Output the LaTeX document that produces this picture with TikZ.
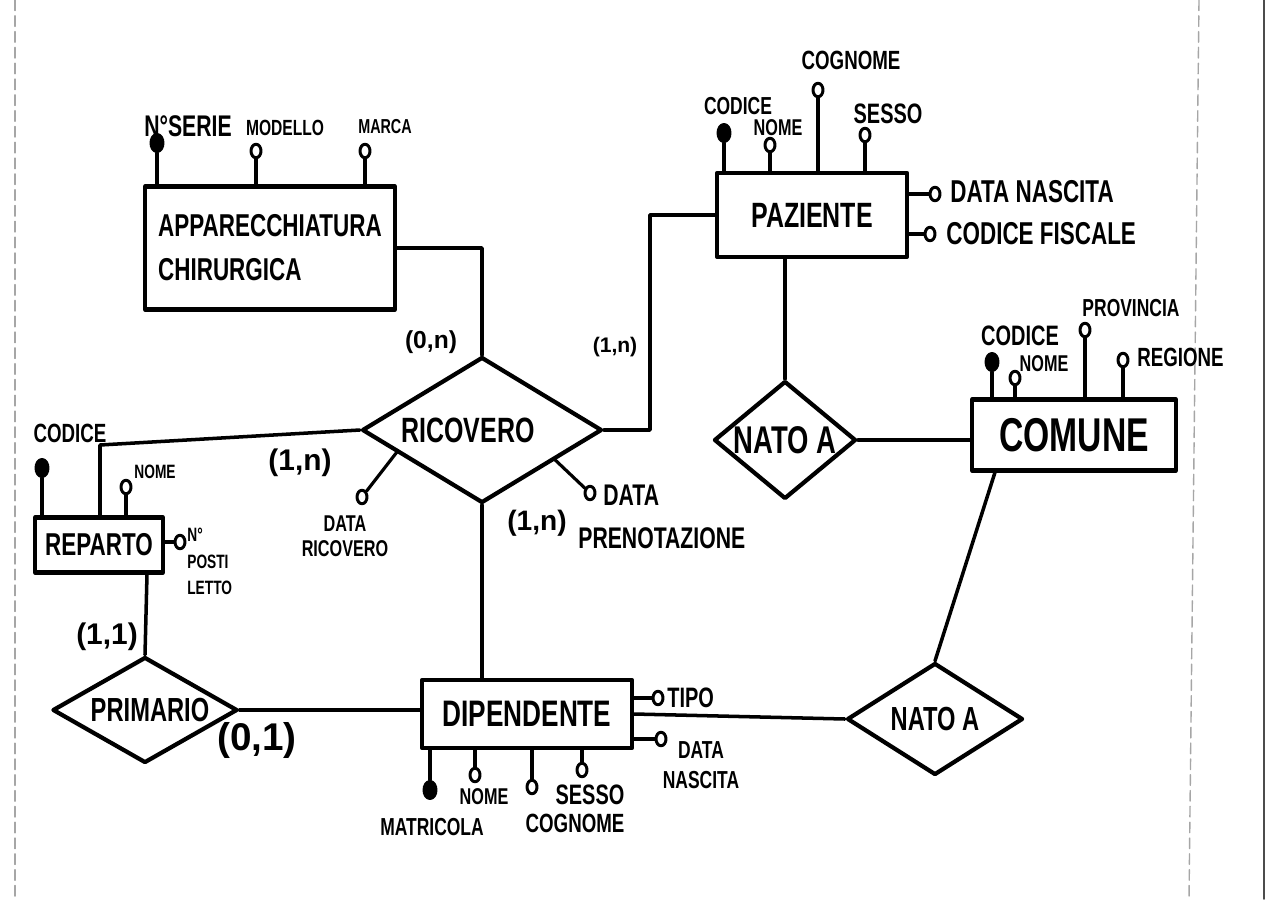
\documentclass[tikz,border=0pt]{standalone}
\usepackage{fontspec}
\setmainfont{Liberation Sans}[FakeStretch=0.71, UprightFont=* Bold]
\newfontfamily\cardfont{Liberation Sans Bold}
\usetikzlibrary{shapes.geometric,calc}
\newcommand\fsz[1]{\fontsize{#1}{#1}\selectfont}

\begin{document}
\begin{tikzpicture}[x=0.02cm,y=-0.02cm, line cap=round, line join=round,
 entity/.style={draw, line width=2.4pt, rectangle, inner sep=0pt},
 rel/.style={draw, line width=2.4pt, diamond, inner sep=0pt},
 conn/.style={line width=2pt},
 stem/.style={line width=1.8pt},
 attr/.style={draw, ellipse, line width=1.7pt, fill=white, minimum width=0.2cm, minimum height=0.27cm, inner sep=0pt},
 keyattr/.style={attr, fill=black, minimum width=0.24cm, minimum height=0.34cm},
 lbl/.style={inner sep=0pt},
 card/.style={inner sep=0pt},
 page/.style={black!35, line width=0.8pt, dash pattern=on 6pt off 3pt}
]
\useasboundingbox (0,0) rectangle (1267,899);
\fill[white] (0,0) rectangle (1267,899);

% page edges
\draw[page] (15,0) -- (15,899);
\draw[page] (1199,0) -- (1189,899);
\draw[black!70, line width=1pt] (1264,0) -- (1264,899);

% entities
\node[entity, minimum width=5cm, minimum height=2.46cm, align=left, font=\fsz{18}] (app) at (270,248) {APPARECCHIATURA\\[7pt]CHIRURGICA};
\node[entity, minimum width=3.8cm, minimum height=1.68cm, font=\fsz{20}] (paz) at (812,215) {PAZIENTE};
\node[entity, minimum width=4.08cm, minimum height=1.42cm, font=\fsz{27}] (com) at (1074,435) {COMUNE};
\node[entity, minimum width=4.2cm, minimum height=1.36cm, font=\fsz{21}] (dip) at (527,714) {DIPENDENTE};
\node[entity, minimum width=2.56cm, minimum height=1.1cm, font=\fsz{18}] (rep) at (99,545) {REPARTO};

% relationships
\node[rel, minimum width=4.8cm, minimum height=2.92cm, label={[font=\fsz{20},xshift=-0.28cm]center:RICOVERO}] (ric) at (482,430) {};
\node[rel, minimum width=2.84cm, minimum height=2.36cm, label={[font=\fsz{22}]center:NATO A}] (nat1) at (785,440) {};
\node[rel, minimum width=3.52cm, minimum height=2.24cm, label={[font=\fsz{19}]center:NATO A}] (nat2) at (935,719) {};
\node[rel, minimum width=3.7cm, minimum height=2.12cm, label={[font=\fsz{19},xshift=0.1cm]center:PRIMARIO}] (pri) at (145,710) {};

% connectors
\coordinate (pk) at (650,430);
\coordinate (rk) at (100,445);
\draw[conn] (app.east) -| (ric.north);
\draw[conn] (paz.west) -| (pk) -- (ric.east);
\draw[conn] (paz.south -| nat1.north) -- (nat1.north);
\draw[conn] (nat1.east) -- (nat1.east -| com.west);
\draw[conn] ([xshift=0.5cm]com.south west) -- (nat2.north);
\draw[conn] (nat2.west) -- (dip.east);
\draw[conn] (ric.south) -- (ric.south |- dip.north);
\draw[conn] (ric.west) -- (rk) -- (rk |- rep.north);
\draw[conn] ([xshift=0.96cm]rep.south) -- (pri.north);
\draw[conn] (pri.east) -- (pri.east -| dip.west);

% cardinalities
\node[card, font=\cardfont\fsz{14}] (k1) at (431,342) {(0,n)};
\node[card, font=\cardfont\fsz{12}] (k2) at (615,347) {(1,n)};
\node[card, font=\cardfont\fsz{17}] (k3) at (300,463) {(1,n)};
\node[card, font=\cardfont\fsz{16}] (k4) at (537,523) {(1,n)};
\node[card, font=\cardfont\fsz{17}] (k5) at (107,637) {(1,1)};
\node[card, font=\cardfont\fsz{22}] (k6) at (257,740) {(0,1)};

% APPARECCHIATURA attributes
\node[keyattr] (a1) at (157,143) {};
\node[attr] (a2) at (256,151) {};
\node[attr] (a3) at (365,151) {};
\foreach \n in {a1,a2,a3} \draw[stem] (\n) -- (\n |- app.north);
\node[lbl, font=\fsz{17}] (a1l) at (188,126) {N°SERIE};
\node[lbl, font=\fsz{12.5}] (a2l) at (285,128) {MODELLO};
\node[lbl, font=\fsz{11.5}] (a3l) at (385,127) {MARCA};

% PAZIENTE attributes
\node[keyattr] (p1) at (724,133) {};
\node[attr] (p2) at (770,145) {};
\node[attr] (p3) at (818,90) {};
\node[attr] (p4) at (865,135) {};
\foreach \n in {p1,p2,p3,p4} \draw[stem] (\n) -- (\n |- paz.north);
\node[lbl, font=\fsz{14}] (p1l) at (738,106) {CODICE};
\node[lbl, font=\fsz{13}] (p2l) at (778,128) {NOME};
\node[lbl, font=\fsz{15}] (p3l) at (851,60) {COGNOME};
\node[lbl, font=\fsz{16}] (p4l) at (888,114) {SESSO};
\node[attr] (p5) at (935,194) {};
\node[attr] (p6) at (930,234) {};
\foreach \n in {p5,p6} \draw[stem] (\n) -- (\n -| paz.east);
\node[lbl, font=\fsz{18}, anchor=west] (p5l) at (950,192) {DATA NASCITA};
\node[lbl, font=\fsz{18}, anchor=west] (p6l) at (946,234) {CODICE FISCALE};

% COMUNE attributes
\node[keyattr] (c1) at (992,362) {};
\node[attr] (c2) at (1015,378) {};
\node[attr] (c3) at (1085,330) {};
\node[attr] (c4) at (1123,360) {};
\foreach \n in {c1,c2,c3,c4} \draw[stem] (\n) -- (\n |- com.north);
\node[lbl, font=\fsz{16}] (c1l) at (1020,336) {CODICE};
\node[lbl, font=\fsz{13}] (c2l) at (1044,364) {NOME};
\node[lbl, font=\fsz{14}] (c3l) at (1131,308) {PROVINCIA};
\node[lbl, font=\fsz{15}, anchor=west] (c4l) at (1137,357) {REGIONE};

% RICOVERO attributes
\node[attr] (r1) at (362,497) {};
\node[attr] (r2) at (590,493) {};
\draw[stem] ($(ric.west)!0.3!(ric.south)$) -- (r1);
\draw[stem] ($(ric.east)!0.4!(ric.south)$) -- (r2);
\node[lbl, font=\fsz{13}, align=center] (r1l) at (345,536) {DATA\\[1pt]RICOVERO};
\node[lbl, font=\fsz{17}, align=left, anchor=north west] (r2l) at (578,485) {\hspace*{0.5cm}DATA\\[7pt]PRENOTAZIONE};

% REPARTO attributes
\node[keyattr] (e1) at (42,468) {};
\node[attr] (e2) at (126,487) {};
\foreach \n in {e1,e2} \draw[stem] (\n) -- (\n |- rep.north);
\node[lbl, font=\fsz{15}] (e1l) at (70,433) {CODICE};
\node[lbl, font=\fsz{11}] (e2l) at (155,472) {NOME};
\node[attr] (e3) at (180,542) {};
\draw[stem] (e3) -- (e3 -| rep.east);
\node[lbl, font=\fsz{11}, align=left, anchor=north west] (e3l) at (187,528) {N°\\[4pt]POSTI\\[4pt]LETTO};

% DIPENDENTE attributes
\node[keyattr] (d1) at (430,790) {};
\node[attr] (d2) at (475,775) {};
\node[attr] (d3) at (532,787) {};
\node[attr] (d4) at (582,770) {};
\foreach \n in {d1,d2,d3,d4} \draw[stem] (\n) -- (\n |- dip.south);
\node[lbl, font=\fsz{14}] (d1l) at (432,827) {MATRICOLA};
\node[lbl, font=\fsz{13}] (d2l) at (484,797) {NOME};
\node[lbl, font=\fsz{15}] (d3l) at (575,823) {COGNOME};
\node[lbl, font=\fsz{16}] (d4l) at (590,795) {SESSO};
\node[attr] (d5) at (658,698) {};
\node[attr] (d6) at (661,739) {};
\foreach \n in {d5,d6} \draw[stem] (\n) -- (\n -| dip.east);
\node[lbl, font=\fsz{16}, anchor=west] (d5l) at (667,698) {TIPO};
\node[lbl, font=\fsz{14}, align=center] (d6l) at (701,765) {DATA\\[3pt]NASCITA};
\end{tikzpicture}
\end{document}
